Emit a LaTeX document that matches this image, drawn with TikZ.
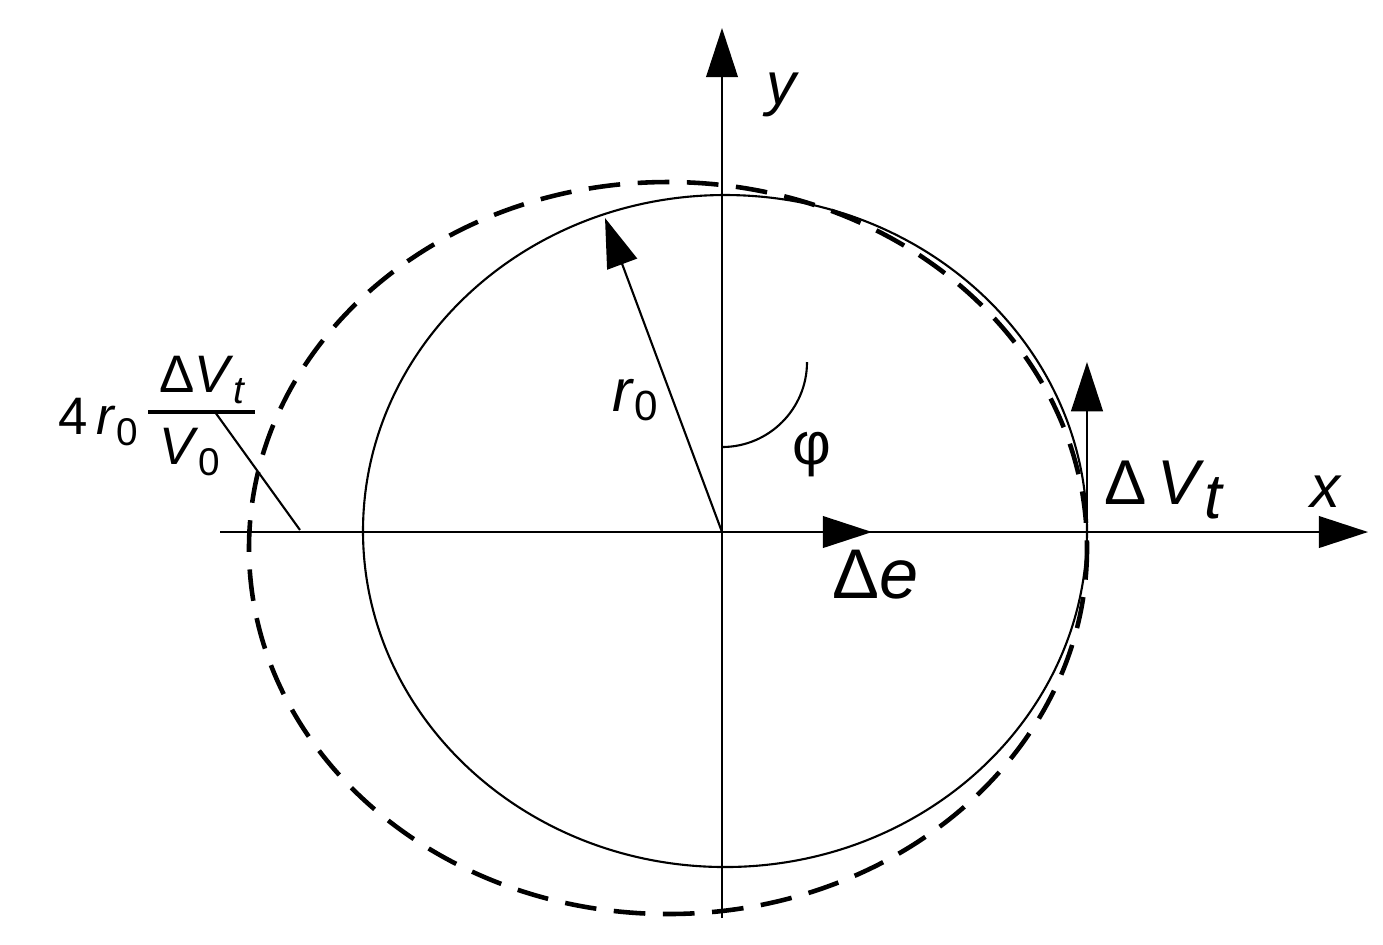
\documentclass[tikz,border=0pt]{standalone}
\usepackage{fontspec}
\setmainfont{Liberation Sans}
\usetikzlibrary{arrows.meta}
\begin{document}
\begin{tikzpicture}[x=0.01cm,y=-0.01cm,
  big/.style={-{Triangle[length=14pt,width=9pt]}},
  lbl/.style={font=\fontsize{17}{20}\selectfont\itshape}]
\useasboundingbox (0,0) rectangle (1383,944);
\coordinate (O) at (722,532);
\coordinate (xs) at (220,532);
\coordinate (xe) at (1368,532);
\coordinate (ys) at (722,918);
\coordinate (ye) at (722,28);
\draw[big,line width=0.6pt] (xs) -- (xe);
\draw[big,line width=0.6pt] (ys) -- (ye);
\draw[line width=0.6pt] (725,531) ellipse [x radius=362,y radius=336];
\draw[dashed,dash pattern=on 9pt off 5pt,line width=1.3pt] (668,548) ellipse [x radius=419,y radius=366];
\coordinate (R) at (605,218);
\draw[big,line width=0.6pt] (O) -- (R);
\draw[line width=0.6pt] (722,447) arc[start angle=90,end angle=0,radius=85];
\coordinate (De) at (872,532);
\draw[big,line width=0.6pt] (O) -- (De);
\coordinate (P) at (1087,532);
\coordinate (Pt) at (1087,362);
\draw[big,line width=0.6pt] (P) -- (Pt);
\coordinate (L1) at (215,412);
\coordinate (L2) at (300,530);
\draw[line width=0.6pt] (L1) -- (L2);
\node[lbl] (ylab) at (781,95) {y};
\node[lbl] (xlab) at (1325,492) {x};
\node[font=\fontsize{17}{20}\selectfont] (r0) at (635,400) {\textit{r}\raisebox{-0.3ex}{\fontsize{12}{14}\selectfont 0}};
\node[font=\fontsize{17}{20}\selectfont] (phi) at (812,455) {φ};
\node[font=\fontsize{20}{24}\selectfont] (de) at (876,575) {Δ\textit{e}};
\node[font=\fontsize{18}{22}\selectfont] (dv) at (1163,490) {Δ\,\textit{V}\raisebox{-0.4ex}{\itshape t}};
\node[font=\fontsize{15}{18}\selectfont,anchor=east] (four) at (150,422) {4\,\textit{r}\raisebox{-0.4ex}{\fontsize{11}{13}\selectfont 0}};
\node[font=\fontsize{15}{18}\selectfont] (num) at (202,380) {Δ\textit{V}\raisebox{-0.4ex}{\fontsize{11}{13}\selectfont\itshape t}};
\draw[line width=1pt] (148,412) -- (255,412);
\node[font=\fontsize{15}{18}\selectfont] (den) at (190,452) {\textit{V}\raisebox{-0.4ex}{\fontsize{11}{13}\selectfont 0}};
\end{tikzpicture}
\end{document}
